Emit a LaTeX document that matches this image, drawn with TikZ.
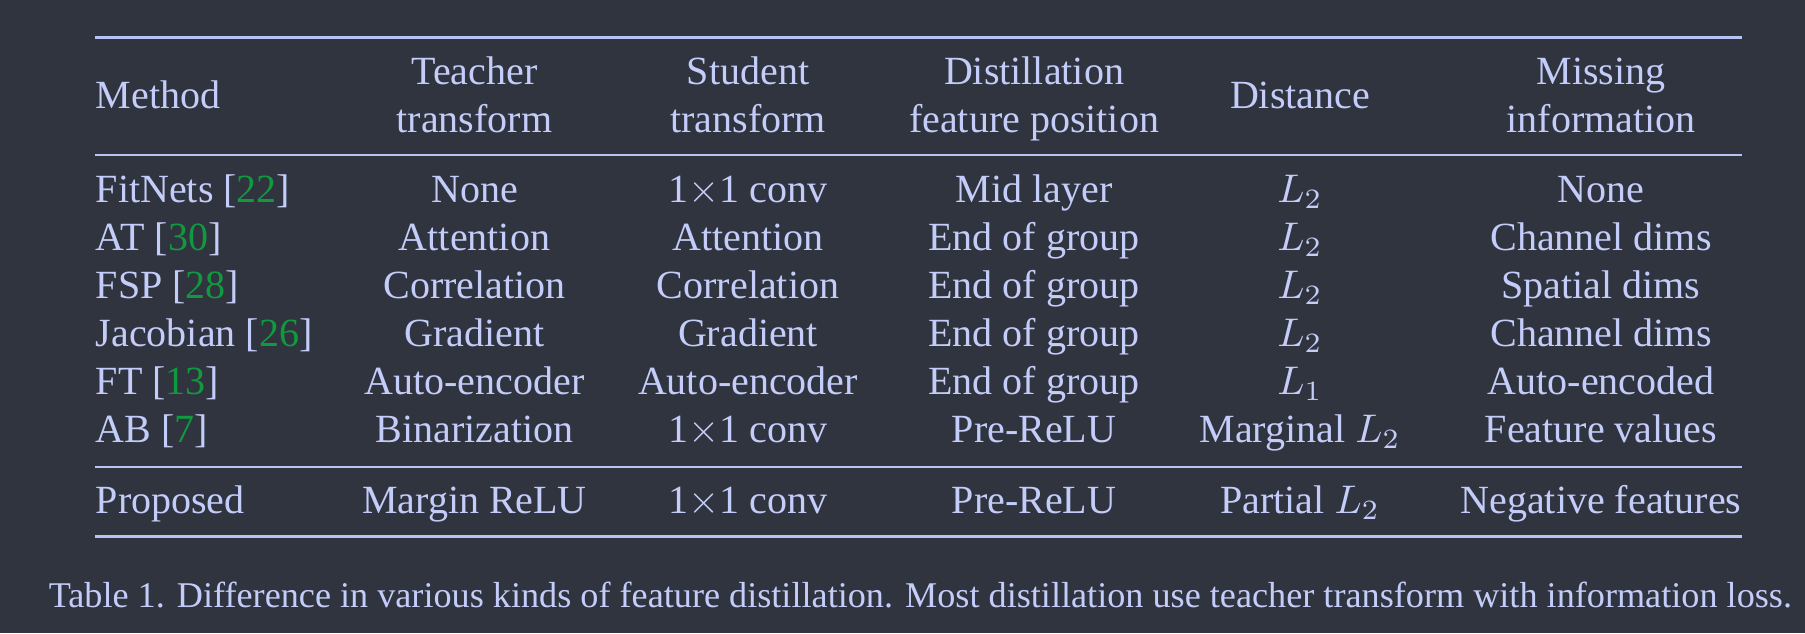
\documentclass[tikz,border=0pt]{standalone}
\usepackage{fontspec}
\setmainfont{Liberation Serif}
\usepackage{xcolor}
\definecolor{bgcol}{HTML}{30343F}
\definecolor{txtcol}{HTML}{C4CDFA}
\definecolor{rulecol}{HTML}{B9C2F5}
\definecolor{citecol}{HTML}{11993F}
\newcommand{\citeno}[1]{[\textcolor{citecol}{#1}]}

\begin{document}
\begin{tikzpicture}[x=0.25pt, y=-0.25pt,
    cell/.style={inner sep=0pt, anchor=base, text=txtcol, font=\fontsize{10}{12}\selectfont},
    lcell/.style={cell, anchor=base west},
    head/.style={cell, align=center},
    thinrule/.style={draw=rulecol, line width=0.5pt},
    thickrule/.style={draw=rulecol, line width=0.75pt}]
    \fill[bgcol] (0,0) rectangle (1805,633);

    % rules
    \coordinate (top-l) at (95,37.5);    \coordinate (top-r) at (1742,37.5);
    \coordinate (head-l) at (95,155);    \coordinate (head-r) at (1742,155);
    \coordinate (mid-l) at (95,467);     \coordinate (mid-r) at (1742,467);
    \coordinate (bot-l) at (95,536);     \coordinate (bot-r) at (1742,536);
    \draw [thickrule] (top-l) -- (top-r);
    \draw [thinrule] (head-l) -- (head-r);
    \draw [thinrule] (mid-l) -- (mid-r);
    \draw [thickrule] (bot-l) -- (bot-r);

    % header (base = last line)
    \node (method) [lcell] at (95,108) {Method};
    \node (teacher) [head] at (474.5,132) {Teacher\\transform};
    \node (student) [head] at (748,132) {Student\\transform};
    \node (position) [head] at (1034,132) {Distillation\\feature position};
    \node (distance) [cell] at (1300,108) {Distance};
    \node (missing) [head] at (1601,132) {Missing\\information};

    % rows
    \node (fitnets) [lcell] at (95,202) {FitNets \citeno{22}};
    \node (fitnets-t) [cell] at (474.5,202) {None};
    \node (fitnets-s) [cell] at (748,202) {1$\times$1 conv};
    \node (fitnets-p) [cell] at (1034,202) {Mid layer};
    \node (fitnets-d) [cell] at (1300,202) {$L_2$};
    \node (fitnets-m) [cell] at (1601,202) {None};

    \node (at) [lcell] at (95,250) {AT \citeno{30}};
    \node (at-t) [cell] at (474.5,250) {Attention};
    \node (at-s) [cell] at (748,250) {Attention};
    \node (at-p) [cell] at (1034,250) {End of group};
    \node (at-d) [cell] at (1300,250) {$L_2$};
    \node (at-m) [cell] at (1601,250) {Channel dims};

    \node (fsp) [lcell] at (95,298) {FSP \citeno{28}};
    \node (fsp-t) [cell] at (474.5,298) {Correlation};
    \node (fsp-s) [cell] at (748,298) {Correlation};
    \node (fsp-p) [cell] at (1034,298) {End of group};
    \node (fsp-d) [cell] at (1300,298) {$L_2$};
    \node (fsp-m) [cell] at (1601,298) {Spatial dims};

    \node (jacobian) [lcell] at (95,346) {Jacobian \citeno{26}};
    \node (jacobian-t) [cell] at (474.5,346) {Gradient};
    \node (jacobian-s) [cell] at (748,346) {Gradient};
    \node (jacobian-p) [cell] at (1034,346) {End of group};
    \node (jacobian-d) [cell] at (1300,346) {$L_2$};
    \node (jacobian-m) [cell] at (1601,346) {Channel dims};

    \node (ft) [lcell] at (95,394) {FT \citeno{13}};
    \node (ft-t) [cell] at (474.5,394) {Auto-encoder};
    \node (ft-s) [cell] at (748,394) {Auto-encoder};
    \node (ft-p) [cell] at (1034,394) {End of group};
    \node (ft-d) [cell] at (1300,394) {$L_1$};
    \node (ft-m) [cell] at (1601,394) {Auto-encoded};

    \node (ab) [lcell] at (95,442) {AB \citeno{7}};
    \node (ab-t) [cell] at (474.5,442) {Binarization};
    \node (ab-s) [cell] at (748,442) {1$\times$1 conv};
    \node (ab-p) [cell] at (1034,442) {Pre-ReLU};
    \node (ab-d) [cell] at (1300,442) {Marginal $L_2$};
    \node (ab-m) [cell] at (1601,442) {Feature values};

    \node (proposed) [lcell] at (95,513) {Proposed};
    \node (proposed-t) [cell] at (474.5,513) {Margin ReLU};
    \node (proposed-s) [cell] at (748,513) {1$\times$1 conv};
    \node (proposed-p) [cell] at (1034,513) {Pre-ReLU};
    \node (proposed-d) [cell] at (1300,513) {Partial $L_2$};
    \node (proposed-m) [cell] at (1601,513) {Negative features};

    % caption
    \node (caption) [lcell, font=\fontsize{9.05}{11}\selectfont] at (48,607) {Table 1. Difference in various kinds of feature distillation. Most distillation use teacher transform with information loss.};
\end{tikzpicture}
\end{document}
